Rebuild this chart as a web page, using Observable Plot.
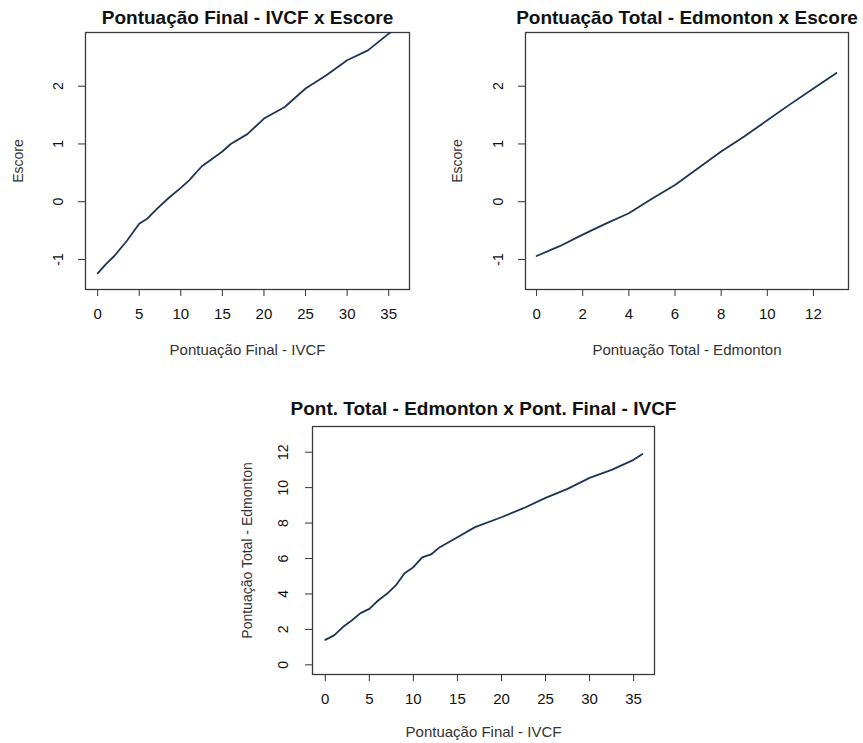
<!DOCTYPE html>
<html>
<head>
<meta charset="utf-8">
<script src="https://cdn.jsdelivr.net/npm/d3@7"></script>
<script src="https://cdn.jsdelivr.net/npm/@observablehq/plot@0.6"></script>
<style>
  html, body { margin: 0; padding: 0; background: #fff; }
  #wrap { position: relative; width: 863px; height: 743px; overflow: hidden; background: #fff; }
  .panel { position: absolute; }
</style>
</head>
<body>
<div id="wrap"></div>
<script>
// Panel 1: Pontuação Final - IVCF x Escore
const ivcfX1 = [0, 1, 2, 3.5, 5, 6, 7, 8.5, 10, 11, 12.5, 15, 16, 18, 20, 22.5, 25, 27.5, 30, 32.5, 35, 35.5];
const escore1 = [-1.24, -1.08, -0.94, -0.68, -0.38, -0.29, -0.14, 0.06, 0.24, 0.37, 0.61, 0.87, 1.0, 1.17, 1.44, 1.64, 1.96, 2.19, 2.45, 2.62, 2.91, 2.96];

// Panel 2: Pontuação Total - Edmonton x Escore
const edmX2 = [0, 1, 2, 3, 4, 5, 6, 7, 8, 9, 10, 11, 12, 13];
const escore2 = [-0.94, -0.77, -0.57, -0.38, -0.20, 0.05, 0.29, 0.58, 0.87, 1.13, 1.41, 1.69, 1.96, 2.23];

// Panel 3: Pont. Total - Edmonton x Pont. Final - IVCF
const ivcfX3 = [0, 1, 2, 3, 4, 5, 6, 7, 8, 9, 10, 11, 12, 13, 15, 17, 20, 22.5, 25, 27.5, 30, 32.5, 35, 36];
const edm3 = [1.41, 1.66, 2.13, 2.50, 2.92, 3.16, 3.63, 4.01, 4.48, 5.17, 5.51, 6.07, 6.23, 6.64, 7.20, 7.77, 8.33, 8.84, 9.42, 9.93, 10.55, 11.0, 11.57, 11.9];

const ticksIVCF = [0, 5, 10, 15, 20, 25, 30, 35];
const ticksEdm = [0, 2, 4, 6, 8, 10, 12];
const ticksEscore = [-1, 0, 1, 2];

const titles = [
  "Pontuação Final - IVCF x Escore",
  "Pontuação Total - Edmonton x Escore",
  "Pont. Total - Edmonton x Pont. Final - IVCF"
];
const xLabels = ["Pontuação Final - IVCF", "Pontuação Total - Edmonton", "Pontuação Final - IVCF"];
const yLabels = ["Escore", "Escore", "Pontuação Total - Edmonton"];

const FONT = "Liberation Sans, Arial, Helvetica, sans-serif";
const LINE = "#1d3556";
const INK = "#111";

function panel(cfg) {
  const data = cfg.xs.map((x, i) => ({x, y: cfg.ys[i]}));
  const p = Plot.plot({
    width: cfg.width, height: cfg.height,
    marginLeft: cfg.ml, marginRight: cfg.mr, marginTop: cfg.mt, marginBottom: cfg.mb,
    style: {fontFamily: FONT, background: "transparent", overflow: "visible"},
    x: {domain: cfg.xDomain},
    y: {domain: cfg.yDomain},
    marks: [
      Plot.frame({stroke: "#3a3a3a", strokeWidth: 1.3}),
      Plot.axisX({ticks: cfg.xTicks, tickSize: 7, tickPadding: 12, tickFormat: d => String(d),
        fontSize: 15, fill: INK, stroke: "#333", label: null}),
      Plot.axisY({ticks: cfg.yTicks, tickSize: 7, tickFormat: () => "", stroke: "#333", label: null}),
      Plot.text(cfg.yTicks, {y: d => d, text: d => String(d), frameAnchor: "left", dx: cfg.ytdx,
        rotate: -90, textAnchor: "middle", lineAnchor: "middle", fontSize: 14, fill: INK}),
      Plot.line(data, {x: "x", y: "y", stroke: LINE, strokeWidth: 1.8, clip: true, curve: "linear"}),
      Plot.text([cfg.title], {text: d => d, frameAnchor: "top", dy: -cfg.titleOff, textAnchor: "middle",
        lineAnchor: "middle", fontSize: 19, fontWeight: "bold", fill: "#111"}),
      Plot.text([cfg.xLabel], {text: d => d, frameAnchor: "bottom", dy: cfg.xlOff, textAnchor: "middle",
        lineAnchor: "middle", fontSize: 15, fill: "#333"}),
      Plot.text([cfg.yLabel], {text: d => d, frameAnchor: "left", dx: -cfg.ylOff, textAnchor: "middle",
        lineAnchor: "middle", rotate: -90, fontSize: 14, fill: "#333"})
    ]
  });
  const div = document.createElement("div");
  div.className = "panel";
  div.style.left = cfg.left + "px";
  div.style.top = cfg.top + "px";
  div.appendChild(p);
  document.getElementById("wrap").appendChild(div);
}

panel({
  left: 0, top: 0, width: 431, height: 370, ml: 85, mr: 22, mt: 32, mb: 81,
  xs: ivcfX1, ys: escore1, xDomain: [-1.46, 37.5], yDomain: [-1.52, 2.93],
  xTicks: ticksIVCF, yTicks: ticksEscore, ytdx: -27,
  title: titles[0], titleOff: 15, xLabel: xLabels[0], xlOff: 61, yLabel: yLabels[0], ylOff: 67
});
panel({
  left: 431, top: 0, width: 432, height: 370, ml: 94, mr: 15, mt: 32, mb: 81,
  xs: edmX2, ys: escore2, xDomain: [-0.48, 13.52], yDomain: [-1.52, 2.93],
  xTicks: ticksEdm, yTicks: ticksEscore, ytdx: -27,
  title: titles[1], titleOff: 15, xLabel: xLabels[1], xlOff: 61, yLabel: yLabels[1], ylOff: 68
});
panel({
  left: 220, top: 370, width: 450, height: 373, ml: 92, mr: 16, mt: 56, mb: 69,
  xs: ivcfX3, ys: edm3, xDomain: [-1.45, 37.37], yDomain: [-0.545, 13.45],
  xTicks: ticksIVCF, yTicks: ticksEdm, ytdx: -29,
  title: titles[2], titleOff: 18, xLabel: xLabels[2], xlOff: 58, yLabel: yLabels[2], ylOff: 65
});
</script>
</body>
</html>
